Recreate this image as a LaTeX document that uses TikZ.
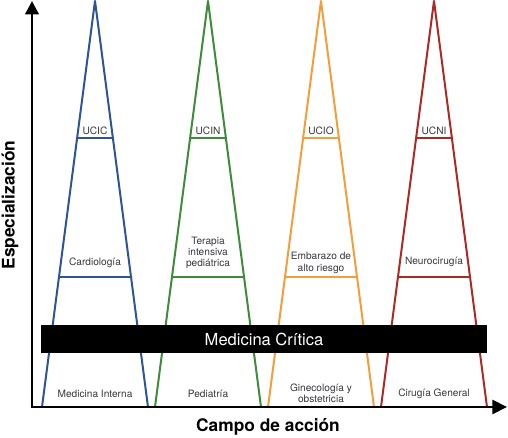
\documentclass[tikz,border=0pt]{standalone}
\usepackage{fontspec}
\setmainfont{TeX Gyre Heros}
\usetikzlibrary{arrows.meta,positioning}
\definecolor{unitblue}{RGB}{46,84,150}
\definecolor{unitgreen}{RGB}{62,140,58}
\definecolor{unitorange}{RGB}{243,158,58}
\definecolor{unitred}{RGB}{172,42,36}
\definecolor{labelgray}{RGB}{55,55,60}
\tikzset{
 unitlabel/.style={font=\fontsize{7.6}{8.4}\selectfont,text=labelgray,align=center,inner sep=0pt},
 axislabel/.style={font=\fontsize{13}{15}\selectfont\bfseries,text=black,inner sep=0pt},
 branch/.style={line width=1.5pt},
 levelbar/.style={line width=1.1pt},
}

\begin{document}
\begin{tikzpicture}[x=0.75pt,y=-0.75pt,>=Stealth,line cap=round,line join=round]
\useasboundingbox (0,0) rectangle (508,438);
% Cuatro pirámides de especialización, una por área.
\foreach \cx/\col/\n in {95/unitblue/1,208/unitgreen/2,321/unitorange/3,434/unitred/4}{
 \coordinate (apex\n) at (\cx,1);
 \coordinate (baseL\n) at (\cx-53,407);
 \coordinate (baseR\n) at (\cx+53,407);
 \draw[branch,\col] (baseL\n) -- (apex\n) -- (baseR\n);
 \draw[levelbar,\col] (\cx-17.9,138) -- (\cx+17.9,138);
 \draw[levelbar,\col] (\cx-36,277) -- (\cx+36,277);
}
% Franja común de medicina crítica.
\node[fill=black,text=white,font=\fontsize{12.4}{14}\selectfont,
 minimum width=334.5pt,minimum height=21pt,inner sep=0pt] (critica) at (264,339)
 {Medicina Crítica};
% Unidades de cuidados intensivos.
\node[unitlabel] (ucic) at (95,131) {UCIC};
\node[unitlabel] (ucin) at (208,131) {UCIN};
\node[unitlabel] (ucio) at (321,131) {UCIO};
\node[unitlabel] (ucni) at (434,131) {UCNI};
% Subespecialidades.
\node[unitlabel] (cardio) at (95,263) {Cardiología};
\node[unitlabel] (terapia) at (208,253) {Terapia\\intensiva\\pediátrica};
\node[unitlabel] (embarazo) at (321,263) {Embarazo de\\alto riesgo};
\node[unitlabel] (neuro) at (434,262) {Neurocirugía};
% Especialidades de base.
\node[unitlabel] (medint) at (95,394) {Medicina Interna};
\node[unitlabel] (pedia) at (208,394) {Pediatría};
\node[unitlabel] (gineco) at (321,393) {Ginecología y\\obstetricia};
\node[unitlabel] (cirugia) at (434,394) {Cirugía General};
% Ejes.
\coordinate (origin) at (32,407);
\coordinate (ytip) at (32,1);
\coordinate (xtip) at (507,407);
\draw[line width=2.2pt,line join=miter,line cap=butt,
 {Triangle[length=10pt,width=10pt]}-{Triangle[length=11pt,width=10.5pt]}]
 (ytip) -- (origin) -- (xtip);
\node[axislabel,rotate=90] (yaxis) at (10,205) {Especialización};
\node[axislabel] (xaxis) at (268,427) {Campo de acción};
\end{tikzpicture}
\end{document}
